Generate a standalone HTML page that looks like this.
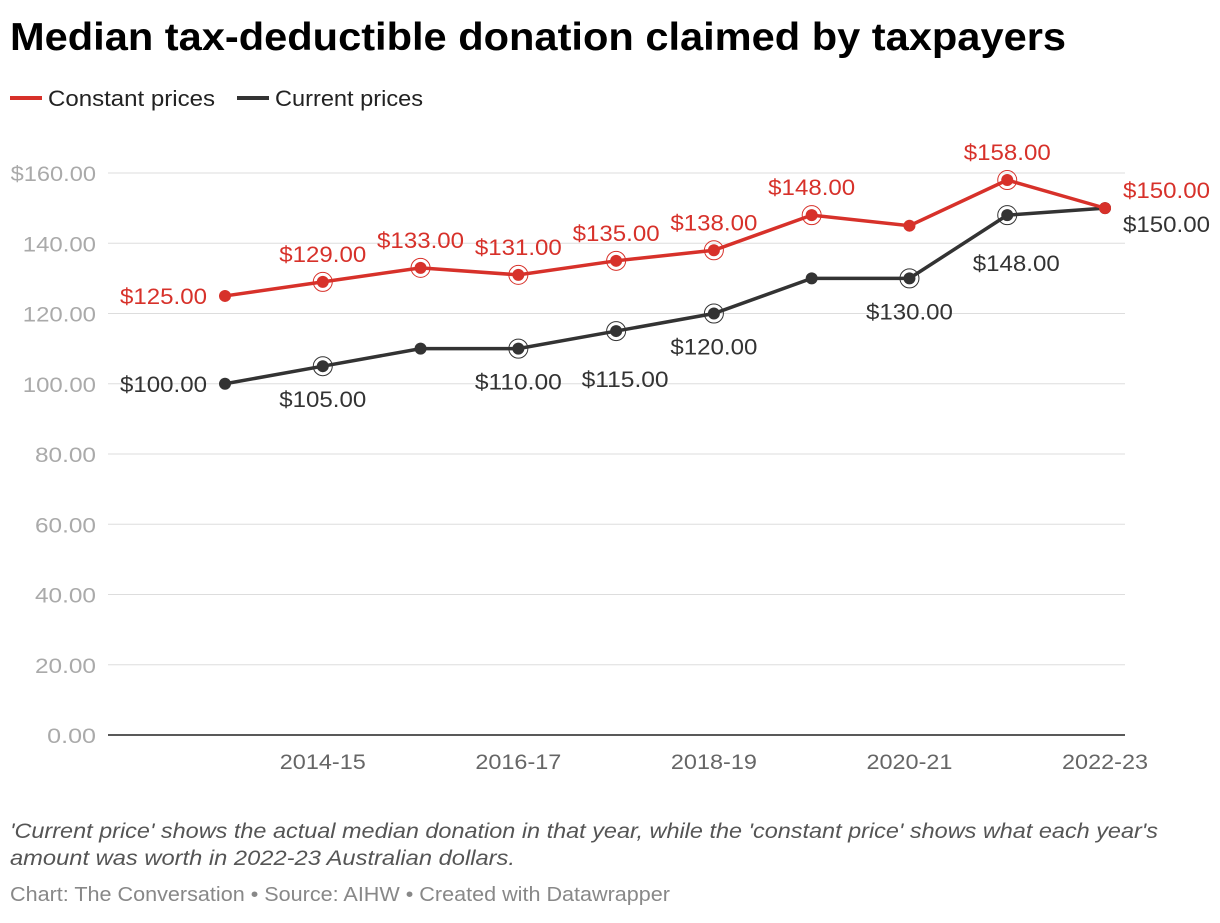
<!DOCTYPE html>
<html><head><meta charset="utf-8"><style>
body{margin:0;background:#fff;width:1220px;height:918px;overflow:hidden;font-family:"Liberation Sans",sans-serif}
</style></head><body>
<svg width="1220" height="918" xmlns="http://www.w3.org/2000/svg">
<text x="10" y="50" font-size="39" font-weight="bold" fill="#000" textLength="1056" lengthAdjust="spacingAndGlyphs">Median tax-deductible donation claimed by taxpayers</text>
<g>
<line x1="10" y1="98" x2="42" y2="98" stroke="#d7312a" stroke-width="4"/>
<text x="48" y="106" font-size="22.5" fill="#222" textLength="167" lengthAdjust="spacingAndGlyphs">Constant prices</text>
<line x1="237" y1="98" x2="269" y2="98" stroke="#333" stroke-width="4"/>
<text x="275" y="106" font-size="22.5" fill="#222" textLength="148" lengthAdjust="spacingAndGlyphs">Current prices</text>
</g>
<g id="grid"></g><g id="plot"></g>
<text x="10" y="838" font-size="21" font-style="italic" fill="#555" textLength="1148" lengthAdjust="spacingAndGlyphs">'Current price' shows the actual median donation in that year, while the 'constant price' shows what each year's</text>
<text x="10" y="865" font-size="21" font-style="italic" fill="#555" textLength="505" lengthAdjust="spacingAndGlyphs">amount was worth in 2022-23 Australian dollars.</text>
<text x="10" y="901" font-size="20" fill="#888" textLength="660" lengthAdjust="spacingAndGlyphs">Chart: The Conversation • Source: AIHW • Created with Datawrapper</text>
</svg>
<script>
const categories=["2013-14","2014-15","2015-16","2016-17","2017-18","2018-19","2019-20","2020-21","2021-22","2022-23"];
const constantValues=[125,129,133,131,135,138,148,145,158,150];
const currentValues=[100,105,110,110,115,120,130,130,148,150];
const yTicks=[0,20,40,60,80,100,120,140,160];
const xTickLabels=["2014-15","2016-17","2018-19","2020-21","2022-23"];
const constantLabelPos=["left","above","above","above","above","above","above",null,"above","right"];
const currentLabelPos=["left","below",null,"below","below2","below",null,"below","below2","right"];
const NS="http://www.w3.org/2000/svg";
const x=i=>225+i*97.78;
const y=v=>735-v*3.5125;
function el(t,a,p){const e=document.createElementNS(NS,t);for(const k in a)e.setAttribute(k,a[k]);p.appendChild(e);return e;}
const grid=document.getElementById('grid'),plot=document.getElementById('plot');
yTicks.forEach(v=>{
 const l=el('line',{x1:108,x2:1125,y1:y(v),y2:y(v),stroke:v===0?'#222':'#ddd','stroke-width':v===0?1.5:1},grid);
 
 
 const s=(v===160?'$':'')+v.toFixed(2);
 const t=el('text',{x:96,y:y(v)+8,'text-anchor':'end','font-size':21.5,fill:'#aaa',textLength:s.length*12.2,lengthAdjust:'spacingAndGlyphs'},grid);
 t.textContent=s;
 
 
});
xTickLabels.forEach(c=>{
 const i=categories.indexOf(c);
 const t=el('text',{x:x(i),y:769,'text-anchor':'middle','font-size':21.5,fill:'#666',textLength:86,lengthAdjust:'spacingAndGlyphs'},grid);
 t.textContent=c;
 
 
});
function series(vals,pos,color,name){
 const p=el('polyline',{points:vals.map((v,i)=>x(i)+','+y(v)).join(' '),fill:'none',stroke:color,'stroke-width':3.5},plot);
 
 
 vals.forEach((v,i)=>{
  const px=x(i),py=y(v),ps=pos[i];
  if(ps&&ps!=='left'&&ps!=='right'){
   const r=el('circle',{cx:px,cy:py,r:9.5,fill:'none',stroke:color,'stroke-width':1},plot);
   
   
  }
  const c=el('circle',{cx:px,cy:py,r:6,fill:color},plot);
  
  
  if(!ps)return;
  let tx=px,ty=py,anc='middle';
  if(ps==='above')ty=py-20;
  if(ps==='below')ty=py+41;
  if(ps==='below2'){ty=py+56;tx=px+9;}
  if(ps==='left'){tx=px-18;ty=py+8;anc='end';}
  if(ps==='right'){tx=px+18;ty=py+(name==='constant'?-10:24);anc='start';}
  const t=el('text',{x:tx,y:ty,'text-anchor':anc,'font-size':22.5,fill:color,textLength:87,lengthAdjust:'spacingAndGlyphs'},plot);
  t.textContent='$'+v.toFixed(2);
  
  
 });
}
series(currentValues,currentLabelPos,'#333','current');
series(constantValues,constantLabelPos,'#d7312a','constant');
</script>
</body></html>
